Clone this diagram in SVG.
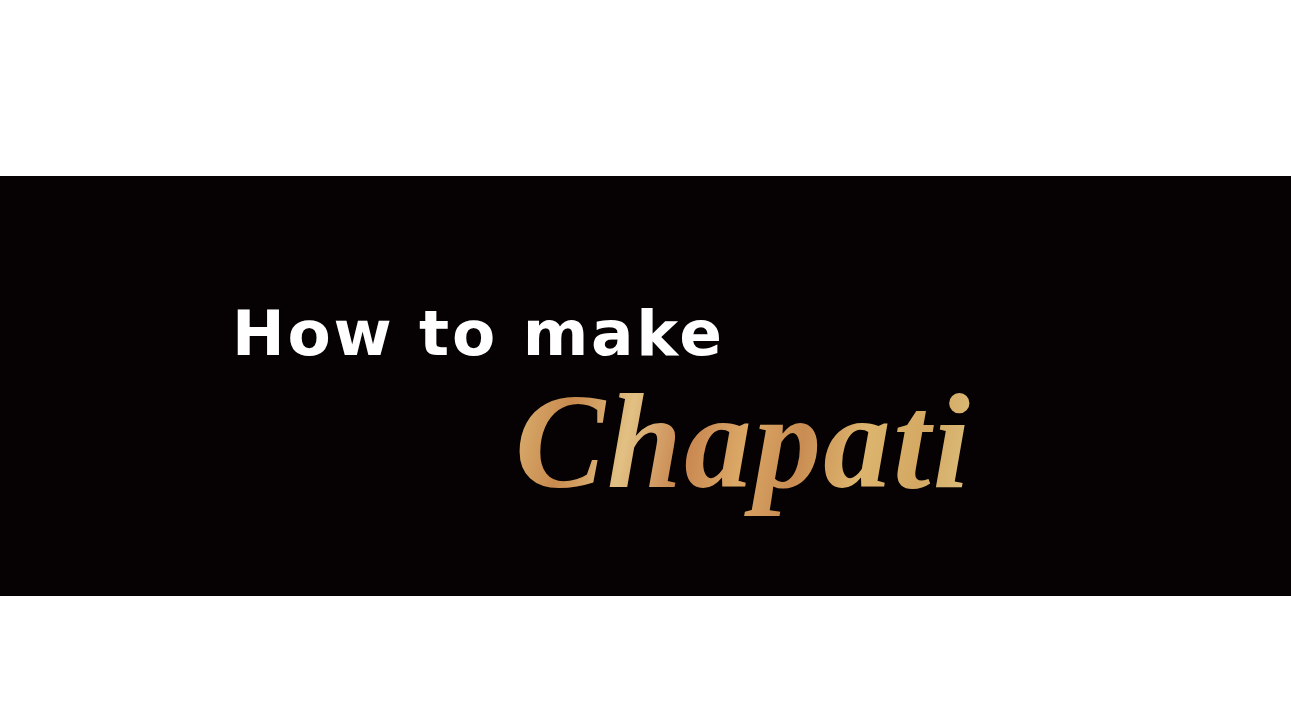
<svg xmlns="http://www.w3.org/2000/svg" width="1291" height="720" viewBox="0 0 1291 720">
  <defs>
    <linearGradient id="gold" x1="515" y1="400" x2="970" y2="500" gradientUnits="userSpaceOnUse">
      <stop offset="0" stop-color="#d9b070"/>
      <stop offset="0.12" stop-color="#c98a4e"/>
      <stop offset="0.25" stop-color="#e2c083"/>
      <stop offset="0.38" stop-color="#c88650"/>
      <stop offset="0.5" stop-color="#dba866"/>
      <stop offset="0.62" stop-color="#c98c52"/>
      <stop offset="0.75" stop-color="#ddb56e"/>
      <stop offset="0.88" stop-color="#d4a862"/>
      <stop offset="1" stop-color="#dcc07e"/>
    </linearGradient>
    <style>
      .title { font-family: "DejaVu Sans", "Liberation Sans", sans-serif; font-weight: bold; font-size: 63px; fill: #ffffff; }
      .script { font-family: "Liberation Serif", "DejaVu Serif", serif; font-style: italic; font-weight: bold; font-size: 135px; fill: url(#gold); }
    </style>
  </defs>
  <rect x="0" y="0" width="1291" height="720" fill="#ffffff"/>
  <rect id="band" x="0" y="176" width="1291" height="420" fill="#060102"/>
  <text class="title" x="232" y="355" textLength="490" lengthAdjust="spacing">How to make</text>
  <text class="script" x="515" y="487" textLength="455" lengthAdjust="spacing">Chapati</text>
</svg>
